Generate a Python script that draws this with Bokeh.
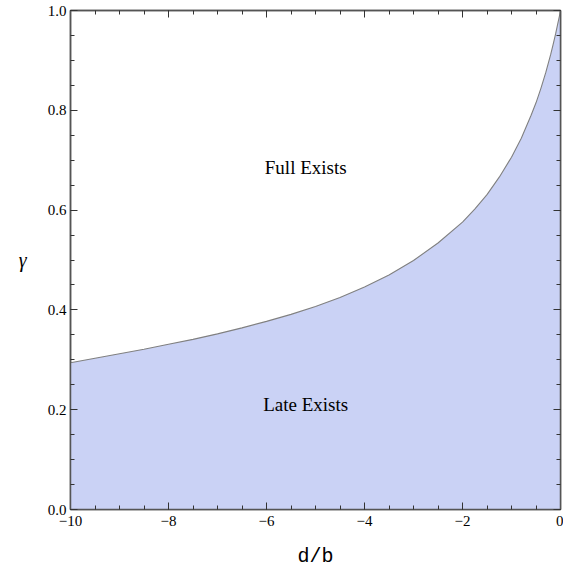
from bokeh.plotting import figure
from bokeh.models import LinearAxis, FixedTicker, Range1d, Label
from bokeh.embed import file_html
from bokeh.resources import INLINE

# boundary between the two regions
d_over_b = [-10, -9.5, -9, -8.5, -8, -7.5, -7, -6.5, -6, -5.5, -5, -4.5, -4, -3.5, -3, -2.5,
            -2, -1.75, -1.5, -1.25, -1, -0.8, -0.6, -0.5, -0.4, -0.3, -0.2, -0.15, -0.1, -0.05, -0.02, 0]
gamma = [0.294, 0.303, 0.312, 0.321, 0.331, 0.341, 0.352, 0.364, 0.377, 0.391, 0.407, 0.425, 0.446,
         0.470, 0.499, 0.534, 0.576, 0.602, 0.631, 0.666, 0.706, 0.744, 0.790, 0.815, 0.844, 0.876,
         0.912, 0.932, 0.953, 0.976, 0.990, 1.0]
floor = [0.0] * len(d_over_b)

x_ticks = [-10, -8, -6, -4, -2, 0]
x_tick_labels = ["\u221210", "\u22128", "\u22126", "\u22124", "\u22122", "0"]
y_ticks = [0.0, 0.2, 0.4, 0.6, 0.8, 1.0]
y_tick_labels = ["0.0", "0.2", "0.4", "0.6", "0.8", "1.0"]
x_minor = [-10 + 0.5 * i for i in range(21)]
y_minor = [0.05 * i for i in range(21)]

region_labels = ["Full Exists", "Late Exists"]
region_x = [-5.2, -5.2]
region_y = [0.685, 0.21]

SERIF = "Liberation Serif"
MONO = "Liberation Mono"
AXC = "#555555"

p = figure(width=563, height=570, output_backend="svg", toolbar_location=None,
           x_range=Range1d(-10, 0), y_range=Range1d(0, 1),
           min_border_left=70, min_border_right=3, min_border_top=10, min_border_bottom=57,
           x_axis_location=None, y_axis_location=None)
p.xgrid.visible = False
p.ygrid.visible = False
p.outline_line_color = AXC
p.outline_line_width = 1.5

p.varea(x=d_over_b, y1=floor, y2=gamma, fill_color="#CAD2F5", fill_alpha=1.0)
p.line(x=d_over_b, y=gamma, line_color="#808080", line_width=1.1)

for txt, tx, ty in zip(region_labels, region_x, region_y):
    p.add_layout(Label(x=tx, y=ty, text=txt, text_font=SERIF, text_font_size="19px",
                       text_align="center", text_baseline="middle", text_color="#000000"))

def style(ax, labels, overrides):
    ax.axis_line_color = AXC
    ax.axis_line_width = 1.5
    ax.major_tick_line_color = "#333333"
    ax.minor_tick_line_color = "#333333"
    ax.major_tick_in = 7
    ax.major_tick_out = 0
    ax.minor_tick_in = 4
    ax.minor_tick_out = 0
    ax.major_label_text_font = SERIF
    ax.major_label_text_font_size = "15px"
    ax.major_label_text_color = "#000000"
    if labels:
        ax.major_label_overrides = overrides
    else:
        ax.major_label_text_alpha = 0
        ax.major_label_text_font_size = "1px"

xov = {t: l for t, l in zip(x_ticks, x_tick_labels)}
yov = {t: l for t, l in zip(y_ticks, y_tick_labels)}

xb = LinearAxis(ticker=FixedTicker(ticks=x_ticks, minor_ticks=x_minor))
style(xb, True, xov)
xb.axis_label = "d/b"
xb.axis_label_text_font = MONO
xb.axis_label_text_font_style = "normal"
xb.axis_label_text_font_size = "20px"
xb.axis_label_text_color = "#000000"
xb.axis_label_standoff = 16
xb.major_label_standoff = 6
p.add_layout(xb, "below")

xt = LinearAxis(ticker=FixedTicker(ticks=x_ticks, minor_ticks=x_minor))
style(xt, False, xov)
xt.major_label_standoff = 0
p.add_layout(xt, "above")

yl = LinearAxis(ticker=FixedTicker(ticks=y_ticks, minor_ticks=y_minor))
style(yl, True, yov)
yl.axis_label = "\u03b3"
yl.axis_label_text_font = SERIF
yl.axis_label_text_font_style = "italic"
yl.axis_label_text_font_size = "20px"
yl.axis_label_text_color = "#000000"
yl.axis_label_orientation = "horizontal"
yl.axis_label_standoff = 18
yl.major_label_standoff = 4
p.add_layout(yl, "left")

yr = LinearAxis(ticker=FixedTicker(ticks=y_ticks, minor_ticks=y_minor))
style(yr, False, yov)
yr.major_label_standoff = 0
p.add_layout(yr, "right")

open("out.html", "w").write(file_html(p, INLINE))
